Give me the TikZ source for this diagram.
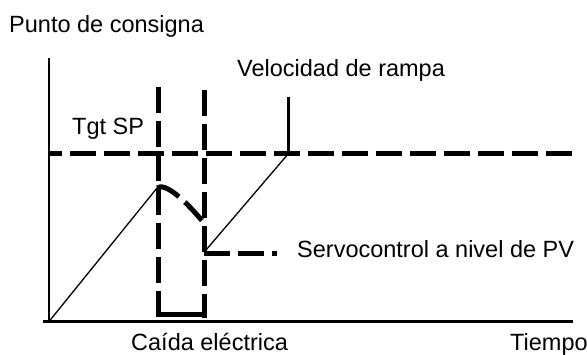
\documentclass[tikz,border=0pt]{standalone}
\usepackage{fontspec}
\setmainfont{Liberation Sans}
\begin{document}
\begin{tikzpicture}[x=1pt,y=-1pt,
  lbl/.style={anchor=base west,inner sep=0pt,font=\fontsize{23.5}{28}\selectfont},
  axisline/.style={line width=2.7pt},
  thinline/.style={line width=1.3pt},
  dashline/.style={line width=5pt,dash pattern=on 26pt off 8pt},
  barline/.style={line width=5.5pt}]
\useasboundingbox (0,0) rectangle (587,354);
% labels
\node[lbl] (ylab) at (9,32) {Punto de consigna};
\node[lbl] (vel) at (237,76) {Velocidad de rampa};
\node[lbl] (tgt) at (72,134) {Tgt SP};
\node[lbl] (servo) at (297,257) {Servocontrol a nivel de PV};
\node[lbl] (caida) at (131,350) {Caída eléctrica};
\node[lbl] (tiempo) at (510,350) {Tiempo};
% coordinates
\coordinate (o) at (49,321.5);
\coordinate (ytop) at (49,58);
\coordinate (xend) at (573,321.5);
\coordinate (xstart) at (43,321.5);
\coordinate (spL) at (50,153.5);
\coordinate (spR) at (573,153.5);
\coordinate (v1t) at (158.5,87);
\coordinate (v1b) at (158.5,318);
\coordinate (v2t) at (204.5,90);
\coordinate (v2b) at (204.5,318);
\coordinate (peak) at (157,188);
\coordinate (dip) at (204,223);
\coordinate (pv) at (204,253);
\coordinate (pvR) at (277,253);
\coordinate (rampTop) at (288.5,153.5);
\coordinate (velTop) at (288.5,97);
\coordinate (pvStart) at (206,250);
\coordinate (barL) at (156,314.5);
\coordinate (barR) at (207,314.5);
% axes
\draw[axisline] (ytop) -- (o |- xend);
\draw[axisline] (xstart) -- (xend);
% set point line
\draw[dashline,dash phase=14pt] (spL) -- (spR);
% power failure verticals
\draw[dashline] (v1t) -- (v1b);
\draw[dashline] (v2t) -- (v2b);
\draw[barline] (barL) -- (barR);
% ramp before failure
\draw[thinline] (o) -- (peak);
% PV drop during failure
\draw[line width=5pt,dash pattern=on 25pt off 8pt] (peak) .. controls (165,182) and (185,200) .. (dip);
% servo to PV
\draw[dashline] (pv) -- (pvR);
% ramp after recovery
\draw[thinline] (pvStart) -- (rampTop);
\draw[line width=2.7pt] (velTop) -- (rampTop);
\end{tikzpicture}
\end{document}
